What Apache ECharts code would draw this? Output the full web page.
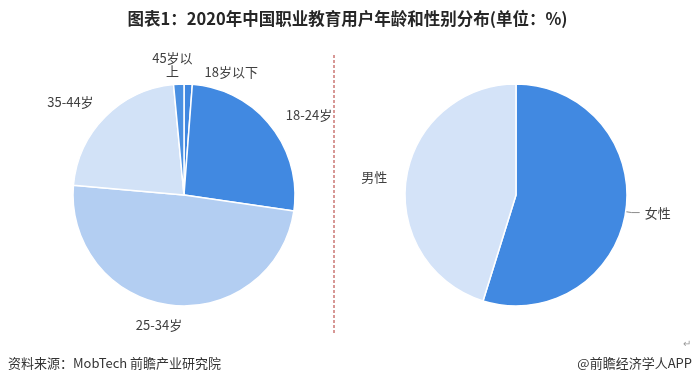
<!DOCTYPE html>
<html>
<head>
<meta charset="utf-8">
<script src="https://cdn.jsdelivr.net/npm/echarts@6/dist/echarts.min.js"></script>
<style>
html,body{margin:0;padding:0;background:#fff;}
#c{width:695px;height:386px;}
</style>
</head>
<body>
<div id="c"></div>
<script>
// Data
var ageCategories = ['18岁以下', '18-24岁', '25-34岁', '35-44岁', '45岁以上'];
var ageValues = [1.2, 26.1, 49.1, 22.1, 1.5];
var ageColors = ['#3F87E0', '#4189E1', '#B3CEF2', '#D2E2F7', '#4A90E2'];
var genderCategories = ['女性', '男性'];
var genderValues = [54.8, 45.2];
var genderColors = ['#4189E1', '#D4E3F8'];

var titleText = '图表1：2020年中国职业教育用户年龄和性别分布(单位：%)';
var sourceText = '资料来源：MobTech 前瞻产业研究院';
var brandText = '@前瞻经济学人APP';

var FONT = '"Noto Sans CJK SC","Microsoft YaHei",sans-serif';

var chart = echarts.init(document.getElementById('c'), null, {renderer: 'canvas'});

function buildData(names, values, colors) {
  return names.map(function (n, i) {
    return {name: n, value: values[i], itemStyle: {color: colors[i]}};
  });
}

var labelStyle = {
  color: '#404040',
  fontSize: 13,
  fontFamily: FONT
};

// label nudges (style only)
var ageLabelShift = [
  {dx: 7, dy: -4},
  {dx: 0, dy: -6},
  {dx: 21, dy: 12},
  {dx: 3, dy: -9},
  {dx: 3, dy: -12, align: 'center'}
];

var option = {
  backgroundColor: '#ffffff',
  animation: false,
  graphic: [
    {
      type: 'text', left: 'center', top: 10,
      style: {text: titleText, fontSize: 16.5, fontWeight: 'bold', fill: '#262626', fontFamily: FONT}
    },
    {
      type: 'line',
      shape: {x1: 334, y1: 55, x2: 334, y2: 334},
      style: {stroke: '#B0302C', lineWidth: 1, lineDash: [3, 2]}
    },
    {
      type: 'text', left: 8, top: 357,
      style: {text: sourceText, fontSize: 13, fill: '#333333', fontFamily: FONT}
    },
    {
      type: 'text', right: 3, top: 357,
      style: {text: brandText, fontSize: 13, fill: '#333333', fontFamily: FONT}
    },
    {
      type: 'text', left: 683, top: 338,
      style: {text: '↵', fontSize: 10, fill: '#9a9a9a', fontFamily: FONT}
    }
  ],
  series: [
    {
      type: 'pie',
      center: [184, 195],
      radius: [0, 111],
      startAngle: 90,
      clockwise: true,
      data: buildData(ageCategories, ageValues, ageColors),
      itemStyle: {borderColor: '#ffffff', borderWidth: 1.5},
      label: Object.assign({
        show: true, position: 'outside',
        formatter: function (p) { return p.name === '45岁以上' ? '45岁以\n上' : p.name; }
      }, labelStyle),
      labelLine: {show: false, length: 8, length2: 4},
      labelLayout: function (params) {
        return ageLabelShift[params.dataIndex];
      },
      emphasis: {disabled: true}
    },
    {
      type: 'pie',
      center: [516, 195],
      radius: [0, 111],
      startAngle: 90,
      clockwise: true,
      data: [
        {name: genderCategories[0], value: genderValues[0], itemStyle: {color: genderColors[0]}},
        {name: genderCategories[1], value: genderValues[1], itemStyle: {color: genderColors[1]}, labelLine: {show: false}}
      ],
      itemStyle: {borderColor: '#ffffff', borderWidth: 1.5},
      label: Object.assign({show: true, position: 'outside'}, labelStyle),
      labelLine: {show: true, length: 6, length2: 8, lineStyle: {color: '#8c8c8c', width: 1}},
      emphasis: {disabled: true}
    }
  ]
};
chart.setOption(option);
</script>
</body>
</html>
